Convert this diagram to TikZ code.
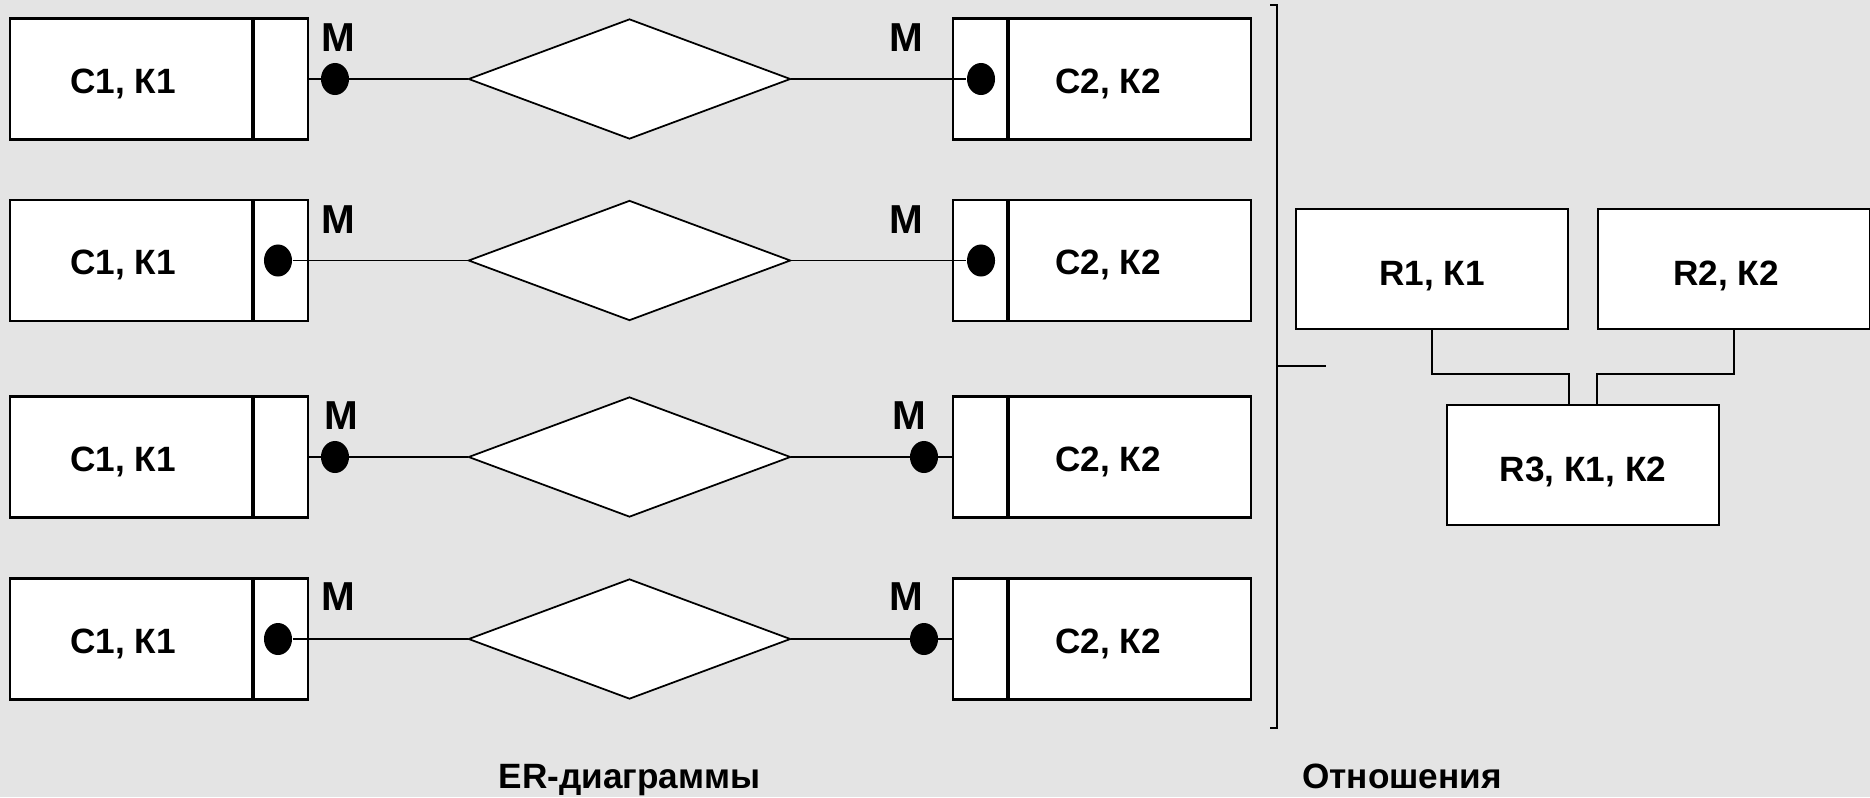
\documentclass[tikz,border=0pt]{standalone}
\usepackage{fontspec}
\setmainfont{Liberation Sans}
\usetikzlibrary{shapes.geometric,positioning}
\definecolor{bggray}{RGB}{228,228,228}
\tikzset{
  ent/.style={draw, fill=white, line width=0.6pt, minimum height=1.21cm, inner sep=0pt, text height=8.2pt, text depth=0pt, font=\bfseries\fontsize{10}{12}\selectfont},
  entmain/.style={ent, minimum width=2.42cm},
  entkey/.style={ent, minimum width=0.54cm},
  lname/.style={execute at begin node={\hspace*{-0.16cm}}},
  rname/.style={execute at begin node={\hspace*{-0.44cm}}},
  rel/.style={draw, diamond, fill=white, line width=0.5pt, minimum width=3.22cm, minimum height=1.2cm, inner sep=0pt},
  card/.style={ellipse, fill=black, minimum width=0.28cm, minimum height=0.32cm, inner sep=0pt},
  mult/.style={font=\bfseries\fontsize{11.5}{13}\selectfont, inner sep=0pt},
  tbl/.style={draw, fill=white, line width=0.6pt, minimum width=2.72cm, minimum height=1.2cm, inner sep=0pt, text height=9.5pt, text depth=0pt, font=\bfseries\fontsize{10}{12}\selectfont},
  link/.style={line width=0.45pt},
}
\begin{document}
\begin{tikzpicture}[x=0.01cm, y=-0.01cm]
\fill[bggray] (0,0) rectangle (1870,797);
\useasboundingbox (0,0) rectangle (1870,797);

% ER: row 1
\node (ea1) [entmain, lname] at (131,79) {С1, К1};
\node (ka1) [entkey, right=0pt of ea1] {};
\node (rel1) [rel] at (629.5,79) {};
\node (kb1) [entkey] at (980,79) {};
\node (eb1) [entmain, rname, right=0pt of kb1] {С2, К2};
\node (ca1) [card] at (335,79) {};
\node (cb1) [card] at (981,79) {};
\draw[link] (ka1.east) -- (rel1.west);
\draw[link] (rel1.east) -- (cb1);
\node (ma1) [mult] at (338,38) {М};
\node (mb1) [mult] at (906,38) {М};

% ER: row 2
\node (ea2) [entmain, lname] at (131,260.5) {С1, К1};
\node (ka2) [entkey, right=0pt of ea2] {};
\node (rel2) [rel] at (629.5,260.5) {};
\node (kb2) [entkey] at (980,260.5) {};
\node (eb2) [entmain, rname, right=0pt of kb2] {С2, К2};
\node (ca2) [card] at (278,260.5) {};
\node (cb2) [card] at (981,260.5) {};
\draw[link] (ca2) -- (rel2.west);
\draw[link] (rel2.east) -- (cb2);
\node (ma2) [mult] at (338,219.5) {М};
\node (mb2) [mult] at (906,219.5) {М};

% ER: row 3
\node (ea3) [entmain, lname] at (131,457) {С1, К1};
\node (ka3) [entkey, right=0pt of ea3] {};
\node (rel3) [rel] at (629.5,457) {};
\node (kb3) [entkey] at (980,457) {};
\node (eb3) [entmain, rname, right=0pt of kb3] {С2, К2};
\draw[link] (ka3.east) -- (rel3.west);
\draw[link] (rel3.east) -- (kb3.west);
\node (ca3) [card] at (335,457) {};
\node (cb3) [card] at (924,457) {};
\node (ma3) [mult] at (341.5,416) {М};
\node (mb3) [mult] at (909,416) {М};

% ER: row 4
\node (ea4) [entmain, lname] at (131,639) {С1, К1};
\node (ka4) [entkey, right=0pt of ea4] {};
\node (rel4) [rel] at (629.5,639) {};
\node (kb4) [entkey] at (980,639) {};
\node (eb4) [entmain, rname, right=0pt of kb4] {С2, К2};
\node (ca4) [card] at (278,639) {};
\draw[link] (ca4) -- (rel4.west);
\draw[link] (rel4.east) -- (kb4.west);
\node (cb4) [card] at (924,639) {};
\node (ma4) [mult] at (338,597) {М};
\node (mb4) [mult] at (906,597) {М};

% bracket
\draw[line width=0.6pt] (1270,5) -- (1277,5) -- (1277,728) -- (1270,728);
\draw[line width=0.45pt] (1277,366) -- (1326,366);

% relations
\node (tr1) [tbl] at (1432,269) {R1, К1};
\node (tr2) [tbl] at (1734,269) {\hspace*{-0.16cm}R2, К2};
\node (tr3) [tbl] at (1583,465) {R3, К1, К2};
\draw[link, line width=0.55pt] (tr1.south) -- ++(0,44) -| (tr1.east |- tr3.north);
\draw[link, line width=0.55pt] (tr2.south) -- ++(0,44) -| (tr2.west |- tr3.north);

% captions
\node (caper) [anchor=base, font=\bfseries\fontsize{10}{12}\selectfont] at (629.5,788) {ER-диаграммы};
\node (caprel) [anchor=base, font=\bfseries\fontsize{10}{12}\selectfont] at (1402,788) {Отношения};
\end{tikzpicture}
\end{document}
